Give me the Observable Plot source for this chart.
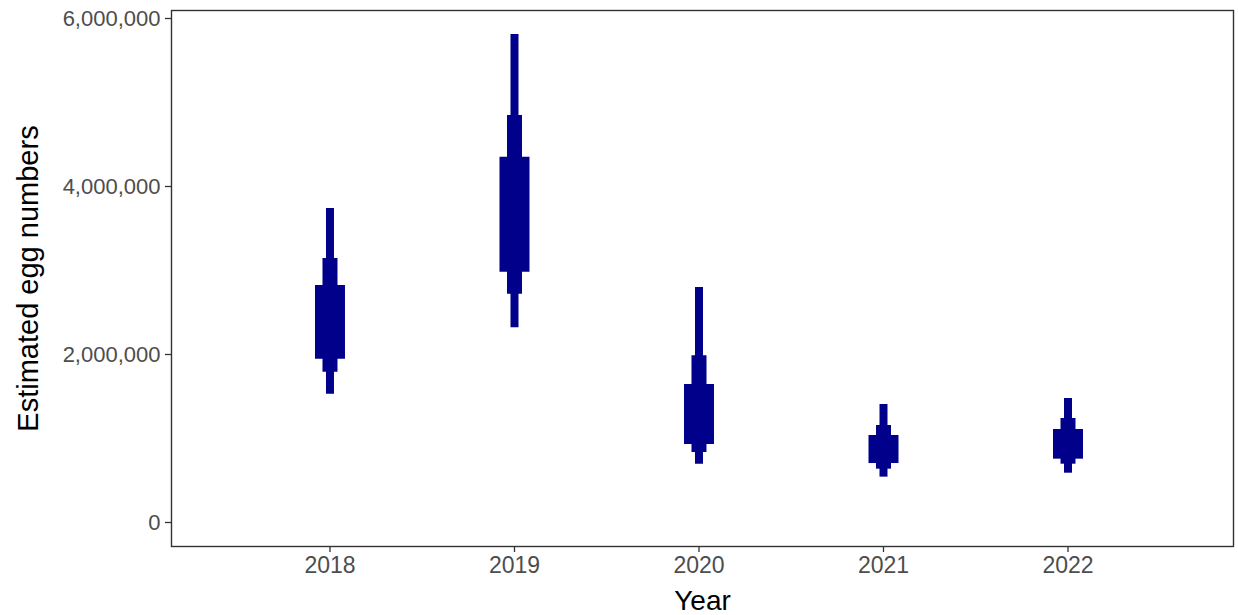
<!DOCTYPE html>
<html>
<head>
<meta charset="utf-8">
<script src="https://cdn.jsdelivr.net/npm/d3@7"></script>
<script src="https://cdn.jsdelivr.net/npm/@observablehq/plot@0.6"></script>
<style>
  html, body { margin: 0; padding: 0; background: #fff; }
</style>
</head>
<body>
<div id="chart"></div>
<script>
const years = [2018, 2019, 2020, 2021, 2022];
const lo95 = [1527000, 2318000, 694000, 540000, 587000];
const hi95 = [3738000, 5810000, 2798000, 1405000, 1476000];
const lo80 = [1789000, 2718000, 833000, 635000, 694000];
const hi80 = [3143000, 4845000, 1984000, 1155000, 1238000];
const lo50 = [1944000, 2980000, 929000, 702000, 754000];
const hi50 = [2821000, 4349000, 1643000, 1036000, 1107000];
const yTicks = [0, 2000000, 4000000, 6000000];

const rows = years.map((year, i) => ({
  year, lo95: lo95[i], hi95: hi95[i], lo80: lo80[i], hi80: hi80[i], lo50: lo50[i], hi50: hi50[i]
}));

const fill = "#00008B";
const font = "'Liberation Sans', Arial, Helvetica, sans-serif";

const chart = Plot.plot({
  width: 1238,
  height: 615,
  marginLeft: 171,
  marginRight: 5,
  marginTop: 10,
  marginBottom: 69,
  style: { fontFamily: font, background: "#fff", overflow: "visible" },
  x: { type: "linear", domain: [2017.141, 2022.897] },
  y: { domain: [-285714, 6095238] },
  marks: [
    Plot.axisX({
      ticks: years, tickFormat: d => String(d), tickSize: 6, tickPadding: 4,
      stroke: "#333", strokeWidth: 1.3, fill: "#4d4d4d", fontSize: 23, label: null
    }),
    Plot.axisY({
      ticks: yTicks, tickFormat: d3.format(","), tickSize: 6, tickPadding: 5,
      stroke: "#333", strokeWidth: 1.3, fill: "#4d4d4d", fontSize: 22, label: null
    }),
    Plot.ruleX(rows, { x: "year", y1: "lo95", y2: "hi95", stroke: fill, strokeWidth: 8 }),
    Plot.ruleX(rows, { x: "year", y1: "lo80", y2: "hi80", stroke: fill, strokeWidth: 15 }),
    Plot.ruleX(rows, { x: "year", y1: "lo50", y2: "hi50", stroke: fill, strokeWidth: 30 }),
    Plot.frame({ stroke: "#333", strokeWidth: 1.4 }),
    Plot.text(["Year"], {
      frameAnchor: "bottom", dy: 55, text: d => d, fontSize: 28, fill: "#000",
      lineAnchor: "middle", textAnchor: "middle"
    }),
    Plot.text(["Estimated egg numbers"], {
      frameAnchor: "left", dx: -143, text: d => d, fontSize: 29, fill: "#000",
      rotate: -90, lineAnchor: "middle", textAnchor: "middle"
    })
  ]
});

document.getElementById("chart").appendChild(chart);
</script>
</body>
</html>
